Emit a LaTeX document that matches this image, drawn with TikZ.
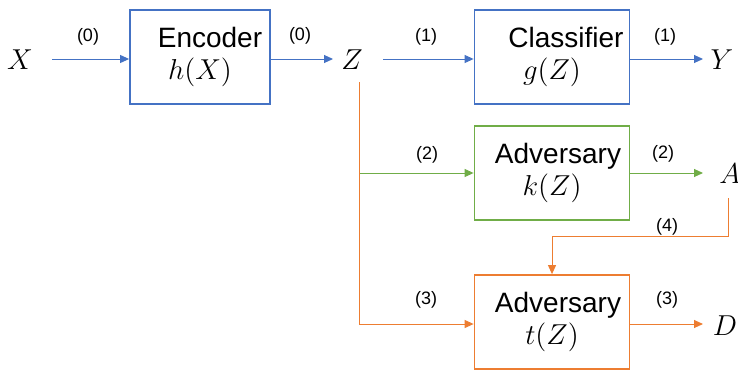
\documentclass[tikz,border=0pt]{standalone}
\usepackage{fontspec}
\setsansfont{Liberation Sans}
\usetikzlibrary{arrows.meta}
\definecolor{cblue}{HTML}{4472C4}
\definecolor{cgreen}{HTML}{70AD47}
\definecolor{corange}{HTML}{ED7D31}
\begin{document}
\begin{tikzpicture}[x=0.5pt,y=-0.5pt,
  block/.style={draw, line width=0.9pt, minimum height=47pt, inner sep=0pt,
    align=center, font=\sffamily\fontsize{14}{16}\selectfont},
  var/.style={inner sep=0pt, font=\fontsize{13.5}{15}\selectfont},
  tag/.style={inner sep=0pt, font=\sffamily\fontsize{9}{10}\selectfont},
  flow/.style={line width=0.5pt, -{Triangle[length=4.5pt,width=4pt]}}]
\useasboundingbox (0,0) rectangle (738,370);

% blocks
\node[block, cblue, minimum width=70pt, text=black] (enc) at (200,57)
  {\hspace*{10pt}Encoder\\ $h(X)$};
\node[block, cblue, minimum width=77.5pt, text=black] (cls) at (552,57)
  {\hspace*{14pt}Classifier\\ $g(Z)$};
\node[block, cgreen, minimum width=77.5pt, text=black] (kadv) at (552,173)
  {\hspace*{6pt}Adversary\\ $k(Z)$};
\node[block, corange, minimum width=77.5pt, text=black] (tadv) at (552,322)
  {\hspace*{6pt}Adversary\\ $t(Z)$};

% variables
\node[var] (X) at (20,60) {$X$};
\node[var] (Z) at (352,60) {$Z$};
\node[var] (Y) at (722,60) {$Y$};
\node[var] (A) at (730,174) {$A$};
\node[var] (D) at (725,326) {$D$};

\coordinate (xs) at (52,59);
\coordinate (zs) at (383,59);
\coordinate (zb) at (359,82);
\coordinate (zk) at (359,173);

% connectors
\draw[flow, cblue] (xs) -- (enc.west |- xs);
\draw[flow, cblue] (enc.east |- xs) -- (333,59) coordinate (zin);
\draw[flow, cblue] (zs) -- (cls.west |- zs);
\draw[flow, cblue] (cls.east |- zs) -- (703,59) coordinate (yin);
\draw[flow, cgreen] (zk) -- (kadv.west |- zk);
\draw[flow, cgreen] (kadv.east |- zk) -- (703,173) coordinate (ain);
\draw[flow, corange] (zb) |- (tadv.west |- 0,324);
\draw[flow, corange] (tadv.east |- 0,324) -- (703,324) coordinate (din);
\draw[flow, corange] (728,198) coordinate (as) -- (728,236) -| (tadv.north);

% step labels
\node[tag] (l0a) at (88,37) {(0)};
\node[tag] (l0b) at (300,36) {(0)};
\node[tag] (l1a) at (426,37) {(1)};
\node[tag] (l1b) at (665,37) {(1)};
\node[tag] (l2a) at (427,155) {(2)};
\node[tag] (l2b) at (663,154) {(2)};
\node[tag] (l4) at (667,227) {(4)};
\node[tag] (l3a) at (426,300) {(3)};
\node[tag] (l3b) at (667,300) {(3)};
\end{tikzpicture}
\end{document}
